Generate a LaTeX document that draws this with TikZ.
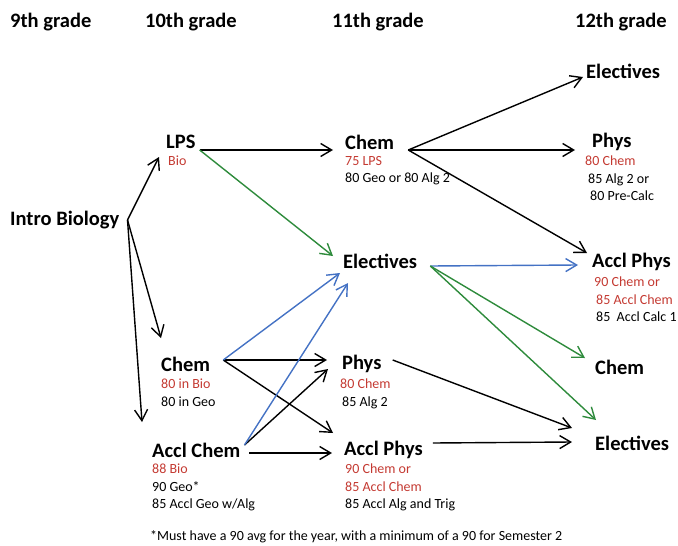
\documentclass[tikz,border=0pt]{standalone}
\usepackage{fontspec}
\setmainfont{Carlito}
\usepackage{xcolor}
\usetikzlibrary{arrows.meta, positioning}
\definecolor{req}{RGB}{196,58,50}
\definecolor{grn}{RGB}{46,139,60}
\definecolor{blu}{RGB}{68,114,196}

\begin{document}
\begin{tikzpicture}[x=1pt, y=-1pt,
        >={Straight Barb[length=11pt,width=13pt]},
        hd/.style={font=\fontsize{20.5}{24}\selectfont\bfseries, anchor=west, inner sep=0},
        info/.style={font=\fontsize{14}{17.5}\selectfont, anchor=north west, inner sep=0, align=left}]
    \useasboundingbox (0,0) rectangle (678,546);

    \node[hd] (g9) at (10,22) {9th grade};
    \node[hd] (g10) at (145,22) {10th grade};
    \node[hd] (g11) at (332,22) {11th grade};
    \node[hd] (g12) at (575,22) {12th grade};

    \node[hd] (intro) at (10,220) {Intro Biology};

    \node[hd] (lps) at (166,142) {LPS};
    \node[info] (lpsr) at (168,156) {\textcolor{req}{Bio}};
    \node[hd] (chemA) at (161,364) {Chem};
    \node[info] (chemAr) at (161,379) {\textcolor{req}{80 in Bio}\\80 in Geo};
    \node[hd] (achem) at (152,450) {Accl Chem};
    \node[info] (achemr) at (152,464) {\textcolor{req}{88 Bio}\\90 Geo*\\85 Accl Geo w/Alg};

    \node[hd] (chemB) at (345,142) {Chem};
    \node[info] (chemBr) at (345,156) {\textcolor{req}{75 LPS}\\80 Geo or 80 Alg 2};
    \node[hd] (elecB) at (343,261) {Electives};
    \node[hd] (physB) at (342,364) {Phys};
    \node[info] (physBr) at (340,379) {\textcolor{req}{80 Chem}\\\hspace*{2pt}85 Alg 2};
    \node[hd] (aphysB) at (344,450) {Accl Phys};
    \node[info] (aphysBr) at (345,464) {\textcolor{req}{90 Chem or}\\\textcolor{req}{85 Accl Chem}\\85 Accl Alg and Trig};

    \node[hd] (elecC) at (586,71) {Electives};
    \node[hd] (physC) at (592,142) {Phys};
    \node[info] (physCr) at (585,156) {\textcolor{req}{80 Chem}\\\hspace*{3pt}85 Alg 2 or\\\hspace*{5pt}80 Pre-Calc};
    \node[hd] (aphysC) at (592,262) {Accl Phys};
    \node[info] (aphysCr) at (594,277) {\textcolor{req}{90 Chem or}\\\hspace*{2pt}\textcolor{req}{85 Accl Chem}\\\hspace*{2pt}85\ \ Accl Calc 1};
    \node[hd] (chemC) at (595,367) {Chem};
    \node[hd] (elecD) at (595,443) {Electives};

    \node[info] (foot) at (150,530) {*Must have a 90 avg for the year, with a minimum of a 90 for Semester 2};

    \draw[line width=1.4pt]
    ([xshift=8]intro.east) edge[->] ([xshift=-7,yshift=-15]lps.west)
    ([xshift=8]intro.east) edge[->] ([yshift=26]chemA.west)
    ([xshift=8]intro.east) edge[->] ([xshift=-10,yshift=28]achem.west)
    ([xshift=4,yshift=-8]lps.east) edge[->] ([xshift=-12,yshift=-8]chemB.west)
    ([xshift=4,yshift=-8]lps.east) edge[->, grn] ([xshift=-10,yshift=5]elecB.west)
    ([xshift=13,yshift=4]chemA.east) edge[->] ([xshift=-15,yshift=4]physB.west)
    ([xshift=13,yshift=4]chemA.east) edge[->] ([xshift=-11,yshift=17]aphysB.west)
    ([xshift=13,yshift=4]chemA.east) edge[->, blu] ([xshift=-3,yshift=-12]elecB.west)
    ([xshift=4,yshift=5]achem.east) edge[->] ([xshift=-14,yshift=-5]physB.west)
    ([xshift=4,yshift=5]achem.east) edge[->, blu] ([xshift=5,yshift=-22]elecB.west)
    ([xshift=9,yshift=-3]achem.east) edge[->] ([xshift=-12,yshift=-3]aphysB.west)
    ([xshift=14,yshift=-8]chemB.east) edge[->] ([xshift=-3,yshift=-6]elecC.west)
    ([xshift=14,yshift=-8]chemB.east) edge[->] ([xshift=-17,yshift=-8]physC.west)
    ([xshift=14,yshift=-8]chemB.east) edge[->] ([xshift=-5,yshift=9]aphysC.west)
    ([xshift=13,yshift=-5]elecB.east) edge[->, blu] ([xshift=-14,yshift=-3]aphysC.west)
    ([xshift=13,yshift=-5]elecB.east) edge[->, grn] ([xshift=-10,yshift=9]chemC.west)
    ([xshift=13,yshift=-5]elecB.east) edge[->, grn] ([xshift=1,yshift=23]elecD.west)
    ([xshift=11,yshift=4]physB.east) edge[->] ([xshift=-23,yshift=15]elecD.west)
    ([xshift=10,yshift=7]aphysB.east) edge[->] ([xshift=-23,yshift=1]elecD.west);
\end{tikzpicture}
\end{document}
